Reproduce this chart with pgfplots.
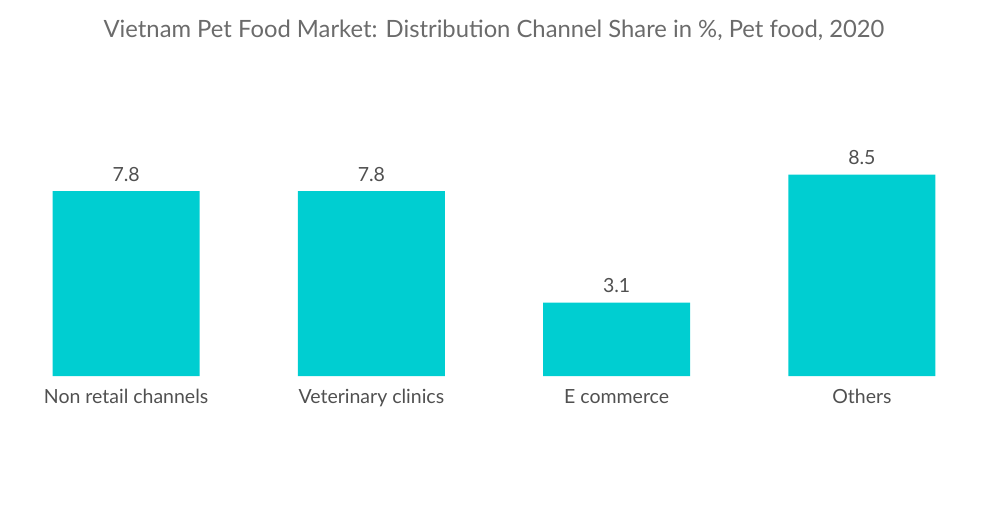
\documentclass[border=0pt]{standalone}
\usepackage{pgfplots}
\pgfplotsset{compat=1.18}
\usepackage{fontspec}
\setmainfont{Lato}
\definecolor{barcol}{HTML}{00CED1}
\definecolor{titlegray}{HTML}{6B6B6B}
\definecolor{labgray}{HTML}{505050}
\begin{document}
\begin{tikzpicture}[x=1pt,y=1pt]
  \path[use as bounding box] (0,0) rectangle (1000,504);
  \node[text=titlegray, font=\fontsize{23.8}{28}\selectfont] at (494,474) {Vietnam Pet Food Market: Distribution Channel Share in \%, Pet food, 2020};
  \begin{axis}[
      at={(3.5pt,128pt)}, anchor=south west,
      scale only axis,
      width=981pt, height=276pt,
      xmin=-0.5, xmax=3.5,
      ymin=0, ymax=11.65,
      axis lines=none,
      ybar, bar width=0.6,
      xtick=\empty, ytick=\empty,
      clip=false,
      nodes near coords,
      nodes near coords style={text=labgray, font=\fontsize{19.5}{23}\selectfont,
        yshift=6pt,
        /pgf/number format/assume math mode=true,
        /pgf/number format/fixed, /pgf/number format/precision=1},
    ]
    \addplot[fill=barcol, draw=none] coordinates {(0,7.8) (1,7.8) (2,3.1) (3,8.5)};
    \tikzset{catlab/.style={text=labgray, font=\fontsize{19.5}{23}\selectfont, anchor=base, yshift=-27pt}}
    \node[catlab] at (axis cs:0,0) {Non retail channels};
    \node[catlab] at (axis cs:1,0) {Veterinary clinics};
    \node[catlab] at (axis cs:2,0) {E commerce};
    \node[catlab] at (axis cs:3,0) {Others};
  \end{axis}
\end{tikzpicture}
\end{document}
